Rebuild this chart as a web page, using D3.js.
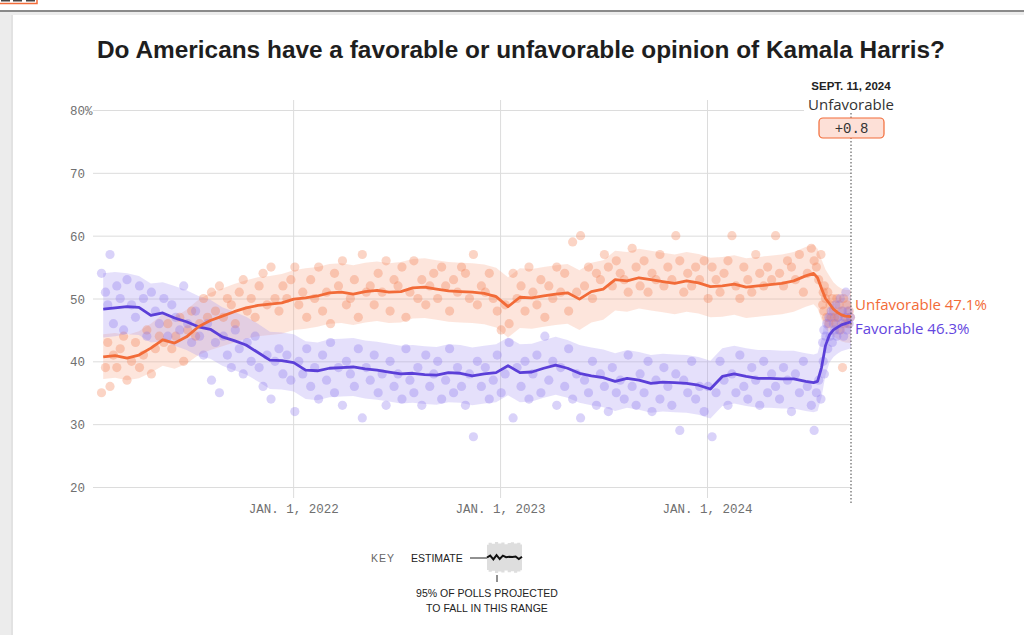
<!DOCTYPE html>
<html>
<head>
<meta charset="utf-8">
<script src="https://cdn.jsdelivr.net/npm/d3@7"></script>
<style>
    html, body { margin: 0; padding: 0; background: #fff; }
    #chart { width: 1024px; height: 635px; overflow: hidden; }
</style>
</head>
<body>
<div id="chart"></div>
<script>

// Estimate dates, with the values read off the trend lines and bands
var estimateDates = [
    '2021-01-31', '2021-02-21', '2021-03-14', '2021-04-04', '2021-04-25', '2021-05-16', '2021-06-06', '2021-06-27',
    '2021-07-18', '2021-08-08', '2021-08-29', '2021-09-19', '2021-10-10', '2021-10-31', '2021-11-21', '2021-12-12',
    '2022-01-02', '2022-01-23', '2022-02-13', '2022-03-06', '2022-03-27', '2022-04-17', '2022-05-08', '2022-05-29',
    '2022-06-19', '2022-07-10', '2022-07-31', '2022-08-21', '2022-09-11', '2022-10-02', '2022-10-23', '2022-11-13',
    '2022-12-04', '2022-12-25', '2023-01-15', '2023-02-05', '2023-02-26', '2023-03-19', '2023-04-09', '2023-04-30',
    '2023-05-21', '2023-06-11', '2023-07-02', '2023-07-23', '2023-08-13', '2023-09-03', '2023-09-24', '2023-10-15',
    '2023-11-05', '2023-11-26', '2023-12-17', '2024-01-07', '2024-01-28', '2024-02-18', '2024-03-10', '2024-03-31',
    '2024-04-21', '2024-05-12', '2024-06-02', '2024-06-23', '2024-07-07', '2024-07-14', '2024-07-21', '2024-07-28',
    '2024-08-04', '2024-08-11', '2024-08-18', '2024-08-25', '2024-09-01', '2024-09-11'
];

var unfavorableEstimate = [
    40.7, 40.9, 40.5, 41.0, 42.1, 43.4, 42.9, 43.9, 45.5, 46.5, 47.2, 47.9, 48.5, 48.9, 49.1, 49.3,
    49.9, 50.1, 50.4, 50.9, 51.0, 50.7, 51.1, 51.3, 51.0, 51.1, 51.7, 51.8, 51.5, 51.2, 51.1, 51.0,
    50.8, 50.3, 48.7, 50.2, 50.1, 50.4, 50.7, 50.9, 49.9, 51.1, 51.5, 53.0, 52.8, 53.3, 53.0, 52.7,
    52.4, 52.8, 52.5, 51.9, 52.0, 52.3, 51.8, 52.0, 52.2, 52.4, 52.8, 53.6, 54.0, 53.3, 51.6, 50.0,
    49.2, 48.3, 47.8, 47.4, 47.2, 47.1
];

var unfavorableHigh = [
    44.3, 44.5, 44.2, 44.8, 46.0, 47.5, 47.0, 48.2, 49.8, 50.9, 51.6, 52.3, 52.9, 53.4, 53.6, 53.9,
    54.5, 54.8, 55.0, 55.5, 55.6, 55.3, 55.7, 55.9, 55.6, 55.8, 56.3, 56.4, 56.1, 55.8, 55.7, 55.6,
    55.4, 54.9, 53.4, 54.8, 54.7, 55.0, 55.3, 55.5, 54.5, 55.7, 56.1, 57.6, 57.4, 57.9, 57.6, 57.3,
    57.0, 57.4, 57.1, 56.5, 56.6, 56.9, 56.4, 56.6, 56.8, 57.0, 57.4, 58.2, 58.6, 57.9, 56.2, 54.6,
    53.6, 52.6, 52.0, 51.6, 51.4, 51.3
];

var unfavorableLow = [
    37.2, 37.4, 37.0, 37.3, 38.2, 39.3, 38.8, 39.6, 41.0, 41.8, 42.4, 43.0, 43.6, 44.0, 44.2, 44.4,
    45.0, 45.2, 45.5, 46.0, 46.1, 45.8, 46.2, 46.4, 46.1, 46.2, 46.8, 46.9, 46.6, 46.3, 46.2, 46.1,
    45.9, 45.4, 43.8, 45.3, 45.2, 45.5, 45.8, 46.0, 45.0, 46.2, 46.6, 48.1, 47.9, 48.4, 48.1, 47.8,
    47.5, 47.9, 47.6, 47.0, 47.1, 47.4, 46.9, 47.1, 47.3, 47.5, 47.9, 48.7, 49.1, 48.4, 46.7, 45.1,
    44.6, 44.0, 43.6, 43.2, 43.0, 42.9
];

var favorableEstimate = [
    48.3, 48.5, 48.7, 48.6, 47.3, 47.7, 46.9, 46.3, 45.5, 45.1, 43.9, 43.3, 42.6, 41.4, 40.2, 40.1,
    39.8, 38.6, 38.5, 38.9, 39.0, 39.1, 38.8, 38.6, 38.3, 38.0, 38.1, 37.9, 37.8, 38.2, 38.1, 37.7,
    38.0, 38.2, 39.3, 38.2, 38.3, 38.9, 39.4, 38.9, 38.1, 37.7, 37.4, 36.8, 37.3, 37.0, 36.5, 36.7,
    36.6, 36.5, 36.2, 35.6, 37.6, 38.0, 37.6, 37.3, 37.3, 37.2, 37.2, 36.8, 36.6, 36.8, 39.0, 42.5,
    44.2, 45.0, 45.4, 45.8, 46.0, 46.3
];

var favorableHigh = [
    54.0, 54.2, 54.0, 53.6, 52.4, 52.6, 52.0, 51.3, 50.4, 49.8, 48.6, 47.9, 47.1, 46.0, 44.7, 44.6,
    44.3, 43.2, 43.0, 43.5, 43.6, 43.7, 43.3, 43.1, 42.8, 42.5, 42.6, 42.4, 42.3, 42.7, 42.6, 42.2,
    42.5, 42.7, 43.8, 42.7, 42.8, 43.4, 43.9, 43.4, 42.6, 42.2, 41.9, 41.3, 41.8, 41.5, 41.0, 41.2,
    41.1, 41.0, 40.7, 40.1, 42.1, 42.5, 42.1, 41.8, 41.8, 41.7, 41.7, 41.3, 41.1, 41.3, 43.5, 47.0,
    48.6, 49.3, 49.6, 50.0, 50.2, 50.5
];

var favorableLow = [
    43.8, 44.0, 44.3, 44.2, 43.0, 43.2, 42.5, 41.8, 40.8, 40.4, 39.3, 38.6, 37.9, 36.8, 35.6, 35.5,
    35.2, 34.0, 33.8, 34.3, 34.4, 34.5, 34.1, 33.9, 33.6, 33.3, 33.4, 33.2, 33.1, 33.5, 33.4, 33.0,
    33.3, 33.5, 34.6, 33.5, 33.6, 34.2, 34.7, 34.2, 33.4, 33.0, 32.7, 32.1, 32.6, 32.3, 31.8, 32.0,
    31.9, 31.8, 31.5, 30.9, 32.9, 33.3, 32.9, 32.6, 32.6, 32.5, 32.5, 32.1, 31.9, 32.1, 34.3, 37.8,
    39.8, 40.7, 41.2, 41.6, 41.8, 42.1
];

// Individual polls: [ date, favorable, unfavorable ]
var polls2021 = [
    [ '2021-01-28', 54, 35 ], [ '2021-02-04', 51, 39 ], [ '2021-02-08', 49, 43 ], [ '2021-02-12', 57, 36 ],
    [ '2021-02-18', 46, 41 ], [ '2021-02-24', 52, 39 ], [ '2021-03-02', 50, 42 ], [ '2021-03-08', 45, 44 ],
    [ '2021-03-14', 53, 37 ], [ '2021-03-22', 49, 40 ], [ '2021-03-29', 47, 43 ], [ '2021-04-05', 52, 39 ],
    [ '2021-04-12', 50, 41 ], [ '2021-04-18', 44, 45 ], [ '2021-04-26', 51, 38 ], [ '2021-05-03', 48, 42 ],
    [ '2021-05-10', 46, 44 ], [ '2021-05-18', 50, 43 ], [ '2021-05-25', 44, 46 ], [ '2021-06-01', 49, 42 ],
    [ '2021-06-08', 47, 44 ], [ '2021-06-15', 45, 47 ], [ '2021-06-22', 52, 40 ], [ '2021-06-29', 46, 45 ],
    [ '2021-07-06', 43, 48 ], [ '2021-07-13', 48, 44 ], [ '2021-07-20', 44, 46 ], [ '2021-07-27', 41, 50 ],
    [ '2021-08-03', 46, 47 ], [ '2021-08-10', 37, 51 ], [ '2021-08-17', 43, 48 ], [ '2021-08-24', 35, 52 ],
    [ '2021-08-31', 44, 47 ], [ '2021-09-07', 41, 50 ], [ '2021-09-14', 39, 49 ], [ '2021-09-21', 45, 46 ],
    [ '2021-09-28', 42, 51 ], [ '2021-10-05', 38, 53 ], [ '2021-10-12', 43, 48 ], [ '2021-10-19', 40, 50 ],
    [ '2021-10-26', 44, 47 ], [ '2021-11-02', 39, 52 ], [ '2021-11-09', 36, 54 ], [ '2021-11-16', 41, 49 ],
    [ '2021-11-23', 34, 55 ], [ '2021-11-30', 40, 50 ], [ '2021-12-07', 42, 48 ], [ '2021-12-14', 38, 52 ],
    [ '2021-12-21', 41, 50 ], [ '2021-12-28', 37, 53 ]
];

var polls2022 = [
    [ '2022-01-04', 32, 55 ], [ '2022-01-11', 40, 49 ], [ '2022-01-18', 38, 51 ], [ '2022-01-25', 42, 47 ],
    [ '2022-02-01', 36, 53 ], [ '2022-02-08', 39, 50 ], [ '2022-02-15', 34, 55 ], [ '2022-02-22', 41, 48 ],
    [ '2022-03-01', 37, 51 ], [ '2022-03-08', 43, 46 ], [ '2022-03-15', 35, 54 ], [ '2022-03-22', 39, 52 ],
    [ '2022-03-29', 33, 56 ], [ '2022-04-05', 40, 49 ], [ '2022-04-12', 38, 50 ], [ '2022-04-19', 36, 53 ],
    [ '2022-04-26', 42, 47 ], [ '2022-05-03', 31, 57 ], [ '2022-05-10', 39, 51 ], [ '2022-05-17', 37, 52 ],
    [ '2022-05-24', 41, 49 ], [ '2022-05-31', 35, 54 ], [ '2022-06-07', 38, 51 ], [ '2022-06-14', 33, 56 ],
    [ '2022-06-21', 40, 48 ], [ '2022-06-28', 36, 53 ], [ '2022-07-05', 38, 52 ], [ '2022-07-12', 34, 55 ],
    [ '2022-07-19', 42, 47 ], [ '2022-07-26', 37, 51 ], [ '2022-08-02', 35, 56 ], [ '2022-08-09', 39, 50 ],
    [ '2022-08-16', 33, 53 ], [ '2022-08-23', 41, 49 ], [ '2022-08-30', 36, 52 ], [ '2022-09-06', 38, 54 ],
    [ '2022-09-13', 40, 50 ], [ '2022-09-20', 34, 55 ], [ '2022-09-27', 37, 52 ], [ '2022-10-04', 42, 48 ],
    [ '2022-10-11', 35, 53 ], [ '2022-10-18', 39, 51 ], [ '2022-10-25', 36, 55 ], [ '2022-11-01', 33, 54 ],
    [ '2022-11-08', 38, 50 ], [ '2022-11-15', 28, 57 ], [ '2022-11-22', 40, 49 ], [ '2022-11-29', 36, 52 ],
    [ '2022-12-06', 39, 51 ], [ '2022-12-13', 34, 54 ], [ '2022-12-20', 37, 50 ], [ '2022-12-27', 41, 48 ]
];

var polls2023 = [
    [ '2023-01-03', 35, 45 ], [ '2023-01-10', 38, 49 ], [ '2023-01-17', 43, 46 ], [ '2023-01-24', 31, 54 ],
    [ '2023-01-31', 39, 50 ], [ '2023-02-07', 36, 52 ], [ '2023-02-14', 40, 48 ], [ '2023-02-21', 34, 55 ],
    [ '2023-02-28', 38, 51 ], [ '2023-03-07', 41, 49 ], [ '2023-03-14', 35, 53 ], [ '2023-03-21', 44, 47 ],
    [ '2023-03-28', 37, 52 ], [ '2023-04-04', 40, 50 ], [ '2023-04-11', 33, 55 ], [ '2023-04-18', 39, 51 ],
    [ '2023-04-25', 36, 54 ], [ '2023-05-02', 42, 48 ], [ '2023-05-09', 34, 59 ], [ '2023-05-16', 38, 51 ],
    [ '2023-05-23', 31, 60 ], [ '2023-05-30', 37, 52 ], [ '2023-06-06', 35, 55 ], [ '2023-06-13', 40, 50 ],
    [ '2023-06-20', 33, 54 ], [ '2023-06-27', 38, 53 ], [ '2023-07-04', 36, 57 ], [ '2023-07-11', 32, 55 ],
    [ '2023-07-18', 39, 52 ], [ '2023-07-25', 35, 56 ], [ '2023-08-01', 37, 54 ], [ '2023-08-08', 34, 53 ],
    [ '2023-08-15', 41, 51 ], [ '2023-08-22', 36, 58 ], [ '2023-08-29', 33, 55 ], [ '2023-09-05', 38, 52 ],
    [ '2023-09-12', 35, 56 ], [ '2023-09-19', 40, 51 ], [ '2023-09-26', 32, 54 ], [ '2023-10-03', 37, 53 ],
    [ '2023-10-10', 34, 57 ], [ '2023-10-17', 39, 52 ], [ '2023-10-24', 36, 55 ], [ '2023-10-31', 33, 53 ],
    [ '2023-11-07', 38, 60 ], [ '2023-11-14', 29, 56 ], [ '2023-11-21', 37, 51 ], [ '2023-11-28', 35, 54 ],
    [ '2023-12-05', 40, 52 ], [ '2023-12-12', 34, 55 ], [ '2023-12-19', 36, 53 ], [ '2023-12-27', 32, 56 ]
];

var polls2024 = [
    [ '2024-01-03', 36, 50 ], [ '2024-01-10', 28, 55 ], [ '2024-01-17', 35, 53 ], [ '2024-01-24', 40, 51 ],
    [ '2024-01-31', 37, 54 ], [ '2024-02-07', 33, 56 ], [ '2024-02-14', 38, 60 ], [ '2024-02-21', 35, 52 ],
    [ '2024-02-28', 41, 50 ], [ '2024-03-06', 36, 55 ], [ '2024-03-13', 34, 53 ], [ '2024-03-20', 39, 51 ],
    [ '2024-03-27', 37, 57 ], [ '2024-04-03', 33, 54 ], [ '2024-04-10', 40, 52 ], [ '2024-04-17', 35, 55 ],
    [ '2024-04-24', 38, 53 ], [ '2024-05-01', 36, 60 ], [ '2024-05-08', 34, 54 ], [ '2024-05-15', 39, 52 ],
    [ '2024-05-22', 37, 56 ], [ '2024-05-29', 32, 55 ], [ '2024-06-05', 38, 53 ], [ '2024-06-12', 35, 57 ],
    [ '2024-06-19', 40, 51 ], [ '2024-06-26', 36, 54 ], [ '2024-07-03', 33, 58 ], [ '2024-07-08', 29, 56 ],
    [ '2024-07-12', 35, 55 ], [ '2024-07-16', 37, 53 ], [ '2024-07-20', 34, 57 ], [ '2024-07-23', 43, 49 ],
    [ '2024-07-24', 40, 51 ], [ '2024-07-25', 45, 48 ], [ '2024-07-26', 38, 52 ], [ '2024-07-28', 44, 50 ],
    [ '2024-07-30', 46, 47 ], [ '2024-08-01', 42, 51 ], [ '2024-08-03', 47, 46 ], [ '2024-08-05', 44, 49 ],
    [ '2024-08-07', 48, 47 ], [ '2024-08-09', 43, 50 ], [ '2024-08-11', 46, 48 ], [ '2024-08-13', 45, 47 ],
    [ '2024-08-15', 49, 46 ], [ '2024-08-17', 44, 50 ], [ '2024-08-19', 47, 47 ], [ '2024-08-21', 45, 49 ],
    [ '2024-08-23', 50, 45 ], [ '2024-08-25', 46, 48 ], [ '2024-08-27', 48, 39 ], [ '2024-08-29', 44, 50 ],
    [ '2024-08-31', 47, 46 ], [ '2024-09-02', 51, 47 ], [ '2024-09-04', 45, 49 ], [ '2024-09-06', 48, 46 ],
    [ '2024-09-08', 46, 48 ], [ '2024-09-10', 47, 47 ]
];

// Axis ticks
var yTicks = [ 20, 30, 40, 50, 60, 70, 80 ];
var xTicks = [ '2022-01-01', '2023-01-01', '2024-01-01' ];
var xTickLabels = [ 'JAN. 1, 2022', 'JAN. 1, 2023', 'JAN. 1, 2024' ];

// Latest reading
var latestDate = '2024-09-11';
var latestLabel = 'SEPT. 11, 2024';
var latestUnfavorable = 47.1;
var latestFavorable = 46.3;
var latestLeader = 'Unfavorable';
var latestMargin = '+0.8';

// Key sample shape
var keyEstimate = [ 0.0, 0.12, -0.12, 0.15, -0.1, 0.12, 0.02, 0.05, 0.03, 0.06, -0.1, 0.05 ];
var keyHigh = [ 0.82, 0.95, 0.88, 1.0, 0.9, 0.97, 0.86, 0.93, 0.99, 0.9, 0.95, 0.84 ];
var keyLow = [ -0.8, -0.92, -0.85, -1.0, -0.9, -0.96, -0.84, -0.95, -0.88, -0.98, -0.9, -0.82 ];


function Chart ( parent ) {

    // Scoping
    var self = this;

    // Parent container
    this.parent = d3.select( parent );

    // Size
    this.width = 1024;
    this.height = 635;

    // Plot edges
    this.plot = { left: 93, right: 851, top: 110, bottom: 487 };

    // Colours
    this.colors = {
        unfavorable: '#f26b38',
        favorable: '#5b3fd8',
        unfavorable_band: '#f9a98b',
        favorable_band: '#a897f2',
        unfavorable_dot: '#f47b4f',
        favorable_dot: '#8c76ee',
        grid: '#dcdcdc',
        tick: '#707070'
    };

    // Fonts
    this.sans = '"Liberation Sans", Arial, sans-serif';
    this.label_font = '"Open Sans", "Liberation Sans", sans-serif';
    this.mono = '"Liberation Mono", "DejaVu Sans Mono", monospace';

    this.parse = d3.utcParse( '%Y-%m-%d' );

    // Build the estimate table from the arrays
    this.estimates = estimateDates.map( function ( d, i ) {
        return {
            date: self.parse( d ),
            unfavorable: unfavorableEstimate[i],
            unfavorable_high: unfavorableHigh[i],
            unfavorable_low: unfavorableLow[i],
            favorable: favorableEstimate[i],
            favorable_high: favorableHigh[i],
            favorable_low: favorableLow[i]
        };
    });

    this.polls = polls2021.concat( polls2022, polls2023, polls2024 ).map( function ( p ) {
        return { date: self.parse( p[0] ), favorable: p[1], unfavorable: p[2] };
    });

    // Scales
    this.x = d3.scaleUtc()
        .domain( [ self.parse( '2021-01-13' ), self.parse( latestDate ) ] )
        .range( [ this.plot.left, this.plot.right ] );

    this.y = d3.scaleLinear()
        .domain( [ 20, 80 ] )
        .range( [ this.plot.bottom, this.plot.top ] );

    // Create drawing area hierarchy
    this.svg = this.parent.append( 'svg' )
        .attr( 'width', this.width )
        .attr( 'height', this.height );

    // Create layers
    this.chrome = this.svg.append( 'g' );
    this.background = this.svg.append( 'g' );
    this.midground = this.svg.append( 'g' );
    this.foreground = this.svg.append( 'g' );


    this.draw_chrome = function () {

        self.chrome.append( 'rect' )
            .attr( 'width', self.width ).attr( 'height', self.height )
            .attr( 'fill', '#fff' );

        // Grey page margin round the card
        self.chrome.append( 'rect' )
            .attr( 'x', 0 ).attr( 'y', 11 ).attr( 'width', self.width ).attr( 'height', 4 )
            .attr( 'fill', '#ececec' );
        self.chrome.append( 'rect' )
            .attr( 'x', 0 ).attr( 'y', 11 ).attr( 'width', 13 ).attr( 'height', self.height )
            .attr( 'fill', '#ececec' );
        self.chrome.append( 'rect' )
            .attr( 'x', 11 ).attr( 'y', 15 ).attr( 'width', 2 ).attr( 'height', self.height )
            .attr( 'fill', '#e2e2e2' );

        // Header rule
        self.chrome.append( 'rect' )
            .attr( 'x', 0 ).attr( 'y', 10 ).attr( 'width', self.width ).attr( 'height', 2 )
            .attr( 'fill', '#8a8a8a' );

        // Clipped logo box in the corner
        self.chrome.append( 'rect' )
            .attr( 'x', -2 ).attr( 'y', -6 ).attr( 'width', 39 ).attr( 'height', 9.5 )
            .attr( 'fill', '#fff' ).attr( 'stroke', self.colors.unfavorable ).attr( 'stroke-width', 1.5 );
        [ 1, 13, 26 ].forEach( function ( bx ) {
            self.chrome.append( 'rect' )
                .attr( 'x', bx ).attr( 'y', 0 ).attr( 'width', 9 ).attr( 'height', 1.5 )
                .attr( 'fill', '#444' );
        });

        // Title
        self.chrome.append( 'text' )
            .attr( 'x', 97 ).attr( 'y', 58 )
            .attr( 'textLength', 848 )
            .attr( 'lengthAdjust', 'spacingAndGlyphs' )
            .style( 'font-family', self.sans )
            .style( 'font-weight', 'bold' )
            .style( 'font-size', '23px' )
            .attr( 'fill', '#1e1e1e' )
            .text( 'Do Americans have a favorable or unfavorable opinion of Kamala Harris?' );

    };

    this.draw_axes = function () {

        // Horizontal grid and value labels
        var yAxis = d3.axisLeft( self.y )
            .tickValues( yTicks )
            .tickSize( -( self.plot.right - self.plot.left ) )
            .tickFormat( function ( d ) { return d === 80 ? d + '%' : d; } );

        var gy = self.background.append( 'g' )
            .attr( 'transform', 'translate(' + self.plot.left + ',0)' )
            .call( yAxis );

        gy.select( '.domain' ).remove();
        gy.selectAll( 'line' ).attr( 'stroke', self.colors.grid ).attr( 'stroke-width', 1 );
        gy.selectAll( 'text' )
            .attr( 'x', -23 ).attr( 'dy', '0.36em' )
            .attr( 'text-anchor', 'start' )
            .attr( 'fill', self.colors.tick )
            .style( 'font-family', self.mono )
            .style( 'font-size', '12.5px' );

        // Vertical grid and date labels
        var xAxis = d3.axisBottom( self.x )
            .tickValues( xTicks.map( self.parse ) )
            .tickFormat( function ( d, i ) { return xTickLabels[i]; } );

        var gx = self.background.append( 'g' )
            .attr( 'transform', 'translate(0,' + self.plot.bottom + ')' )
            .call( xAxis );

        gx.select( '.domain' ).remove();
        gx.selectAll( 'line' )
            .attr( 'y1', -( self.plot.bottom - 100 ) ).attr( 'y2', 11 )
            .attr( 'stroke', self.colors.grid ).attr( 'stroke-width', 1 );
        gx.selectAll( 'text' )
            .attr( 'y', 26 ).attr( 'dy', 0 )
            .attr( 'fill', self.colors.tick )
            .style( 'font-family', self.mono )
            .style( 'font-size', '12.5px' );

    };

    this.draw_band = function ( name ) {

        var area = d3.area()
            .x( function ( d ) { return self.x( d.date ); } )
            .y0( function ( d ) { return self.y( d[ name + '_low' ] ); } )
            .y1( function ( d ) { return self.y( d[ name + '_high' ] ); } );

        self.background.append( 'path' )
            .datum( self.estimates )
            .attr( 'd', area )
            .attr( 'fill', self.colors[ name + '_band' ] )
            .attr( 'fill-opacity', 0.3 );

    };

    this.draw_polls = function ( name ) {

        self.midground.append( 'g' )
            .selectAll( 'circle' )
            .data( self.polls )
            .join( 'circle' )
            .attr( 'cx', function ( d ) { return self.x( d.date ); } )
            .attr( 'cy', function ( d ) { return self.y( d[ name ] ); } )
            .attr( 'r', 4.6 )
            .attr( 'fill', self.colors[ name + '_dot' ] )
            .attr( 'fill-opacity', 0.33 );

    };

    this.draw_line = function ( name ) {

        var line = d3.line()
            .x( function ( d ) { return self.x( d.date ); } )
            .y( function ( d ) { return self.y( d[ name ] ); } );

        self.foreground.append( 'path' )
            .datum( self.estimates )
            .attr( 'd', line )
            .attr( 'fill', 'none' )
            .attr( 'stroke', self.colors[ name ] )
            .attr( 'stroke-width', 2.8 )
            .attr( 'stroke-linejoin', 'round' );

    };

    this.draw_latest = function () {

        var lx = self.x( self.parse( latestDate ) );

        // Dotted marker for the latest day
        self.foreground.append( 'line' )
            .attr( 'x1', lx ).attr( 'x2', lx )
            .attr( 'y1', 113 ).attr( 'y2', 505 )
            .attr( 'stroke', '#444' )
            .attr( 'stroke-width', 1 )
            .attr( 'stroke-dasharray', '1.5,2' );

        self.foreground.append( 'rect' )
            .attr( 'x', lx - 47 ).attr( 'y', 95 ).attr( 'width', 94 ).attr( 'height', 17 )
            .attr( 'fill', '#fff' );

        self.foreground.append( 'text' )
            .attr( 'x', lx ).attr( 'y', 90 )
            .attr( 'text-anchor', 'middle' )
            .style( 'font-family', self.sans )
            .style( 'font-weight', 'bold' )
            .style( 'font-size', '11.5px' )
            .attr( 'fill', '#222' )
            .text( latestLabel );

        self.foreground.append( 'text' )
            .attr( 'x', lx ).attr( 'y', 110 )
            .attr( 'text-anchor', 'middle' )
            .style( 'font-family', self.label_font )
            .style( 'font-size', '15px' )
            .attr( 'fill', '#333' )
            .text( latestLeader );

        self.foreground.append( 'rect' )
            .attr( 'x', lx - 32 ).attr( 'y', 118 ).attr( 'width', 65 ).attr( 'height', 20 )
            .attr( 'rx', 4 )
            .attr( 'fill', '#fde0d7' )
            .attr( 'stroke', self.colors.unfavorable )
            .attr( 'stroke-width', 1.2 );

        self.foreground.append( 'text' )
            .attr( 'x', lx + 0.5 ).attr( 'y', 133 )
            .attr( 'text-anchor', 'middle' )
            .style( 'font-family', self.mono )
            .style( 'font-size', '14px' )
            .attr( 'fill', '#333' )
            .text( latestMargin );

        // End labels
        self.foreground.append( 'text' )
            .attr( 'x', lx + 4 ).attr( 'y', self.y( latestUnfavorable ) - 7 )
            .style( 'font-family', self.label_font )
            .style( 'font-size', '15px' )
            .attr( 'fill', self.colors.unfavorable )
            .text( 'Unfavorable ' + latestUnfavorable + '%' );

        self.foreground.append( 'text' )
            .attr( 'x', lx + 4 ).attr( 'y', self.y( latestFavorable ) + 12 )
            .style( 'font-family', self.label_font )
            .style( 'font-size', '15px' )
            .attr( 'fill', '#6446e0' )
            .text( 'Favorable ' + latestFavorable + '%' );

    };

    this.draw_key = function () {

        var key = self.foreground.append( 'g' );

        var kx = d3.scaleLinear().domain( [ 0, keyEstimate.length - 1 ] ).range( [ 487, 522 ] );
        var ky = d3.scaleLinear().domain( [ -1, 1 ] ).range( [ 573, 542 ] );

        key.append( 'text' )
            .attr( 'x', 371 ).attr( 'y', 562 )
            .style( 'font-family', self.sans )
            .style( 'font-size', '10.5px' )
            .style( 'letter-spacing', '1px' )
            .attr( 'fill', '#666' )
            .text( 'KEY' );

        key.append( 'text' )
            .attr( 'x', 411 ).attr( 'y', 562 )
            .style( 'font-family', self.sans )
            .style( 'font-size', '10.5px' )
            .attr( 'fill', '#222' )
            .text( 'ESTIMATE' );

        key.append( 'line' )
            .attr( 'x1', 470 ).attr( 'x2', 488 ).attr( 'y1', 558 ).attr( 'y2', 558 )
            .attr( 'stroke', '#222' ).attr( 'stroke-width', 1 );

        key.append( 'path' )
            .datum( keyHigh )
            .attr( 'd', d3.area()
                .x( function ( d, i ) { return kx( i ); } )
                .y0( function ( d, i ) { return ky( keyLow[i] ); } )
                .y1( function ( d ) { return ky( d ); } )
                .curve( d3.curveStep ) )
            .attr( 'fill', '#dedede' );

        key.append( 'path' )
            .datum( keyEstimate )
            .attr( 'd', d3.line()
                .x( function ( d, i ) { return kx( i ); } )
                .y( function ( d ) { return ky( d ); } ) )
            .attr( 'fill', 'none' )
            .attr( 'stroke', '#111' )
            .attr( 'stroke-width', 2 );

        key.append( 'line' )
            .attr( 'x1', 497 ).attr( 'x2', 497 ).attr( 'y1', 575 ).attr( 'y2', 582 )
            .attr( 'stroke', '#222' ).attr( 'stroke-width', 1 );

        [ [ '95% OF POLLS PROJECTED', 597 ], [ 'TO FALL IN THIS RANGE', 612 ] ].forEach( function ( t ) {
            key.append( 'text' )
                .attr( 'x', 487 ).attr( 'y', t[1] )
                .attr( 'text-anchor', 'middle' )
                .style( 'font-family', self.sans )
                .style( 'font-size', '10.5px' )
                .attr( 'fill', '#222' )
                .text( t[0] );
        });

    };


    // Draw everything
    this.draw_chrome();
    this.draw_axes();
    this.draw_band( 'unfavorable' );
    this.draw_band( 'favorable' );
    this.draw_polls( 'unfavorable' );
    this.draw_polls( 'favorable' );
    this.draw_line( 'favorable' );
    this.draw_line( 'unfavorable' );
    this.draw_latest();
    this.draw_key();

}

var chart = new Chart( '#chart' );

</script>
</body>
</html>
